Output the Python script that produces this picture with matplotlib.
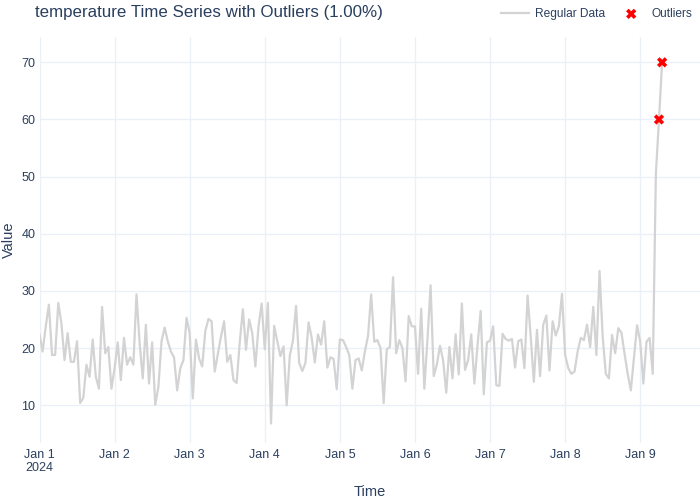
import pandas as pd
import matplotlib
matplotlib.use("Agg")
import matplotlib.pyplot as plt
import matplotlib.dates as mdates

# hourly readings starting 2024-01-01 00:00
start = "2024-01-01"
values = [
    22.4, 19.4, 23.8, 27.6, 18.8, 18.8, 27.9, 24.4, 17.9, 22.6,
    17.6, 17.6, 21.2, 10.4, 11.3, 17.1, 15.0, 21.5, 15.0, 12.9,
    27.2, 19.1, 20.2, 12.9, 16.5, 21.0, 14.4, 21.8, 17.1, 18.4,
    17.1, 29.4, 20.9, 14.7, 24.1, 13.8, 21.0, 10.1, 13.2, 21.2,
    23.6, 21.2, 19.4, 18.4, 12.6, 16.5, 17.9, 25.3, 22.6, 11.2,
    21.5, 18.2, 16.8, 23.0, 25.1, 24.7, 15.9, 19.0, 22.0, 24.7,
    17.6, 18.8, 14.4, 13.9, 21.0, 26.8, 19.7, 25.0, 22.6, 16.8,
    23.8, 27.8, 19.8, 27.9, 6.8, 23.9, 21.2, 18.6, 20.3, 10.0,
    18.7, 21.3, 27.4, 17.4, 16.0, 17.4, 24.5, 21.8, 17.5, 22.4,
    20.6, 24.7, 16.6, 18.4, 18.1, 12.8, 21.5, 21.4, 20.2, 18.8,
    12.9, 17.9, 18.2, 16.1, 19.4, 22.1, 29.4, 21.1, 21.4, 20.0,
    10.4, 19.8, 20.2, 32.4, 19.1, 21.4, 20.0, 14.2, 25.6, 23.8,
    23.8, 15.5, 26.9, 12.9, 21.5, 31.0, 15.1, 17.1, 20.4, 17.9,
    12.2, 20.2, 14.7, 22.4, 15.4, 27.8, 16.2, 17.9, 22.4, 13.8,
    20.5, 26.5, 11.9, 21.0, 21.3, 23.8, 13.5, 13.4, 22.5, 21.6,
    21.3, 21.6, 16.6, 21.2, 21.5, 16.5, 29.2, 22.0, 14.1, 23.2,
    15.1, 24.1, 25.7, 16.1, 24.7, 22.2, 23.8, 29.5, 18.8, 16.5,
    15.5, 15.9, 19.4, 21.8, 21.4, 24.1, 20.2, 27.2, 18.8, 33.5,
    22.0, 15.5, 14.7, 22.3, 19.1, 23.5, 22.7, 19.0, 15.5, 12.6,
    18.3, 24.0, 21.1, 13.8, 21.1, 21.8, 15.5, 50.5, 60.0, 70.0,
]
outlier_idx = [198, 199]
y_ticks = [10, 20, 30, 40, 50, 60, 70]

times = pd.date_range(start, periods=len(values), freq="h")
df = pd.DataFrame({"time": times, "value": values})
out = df.iloc[outlier_idx]

text_col = "#2a3f5f"
grid_col = "#ebf0f8"
plt.rcParams["font.family"] = ["Liberation Sans", "DejaVu Sans"]

fig = plt.figure(figsize=(7, 5), dpi=100)
ax = fig.add_axes([39.5 / 700, 57 / 500, 660.5 / 700, 406 / 500])

ax.plot(df["time"], df["value"], color="lightgray", lw=1.6, label="Regular Data", zorder=2)
ax.scatter(out["time"], out["value"], marker="X", s=55, color="red",
           edgecolors="none", label="Outliers", zorder=3)

t0 = pd.Timestamp(start)
ax.set_xlim(t0, t0 + pd.Timedelta(days=660.5 / 75.09))
ax.set_ylim(3.40, 74.43)
ax.set_yticks(y_ticks)

ticks = pd.date_range(start, periods=9, freq="D")
ax.set_xticks(ticks)
ax.set_xticklabels([("Jan %d\n2024" if i == 0 else "Jan %d") % d.day for i, d in enumerate(ticks)])

ax.grid(True, color=grid_col, lw=1, zorder=0)
ax.set_axisbelow(True)
for s in ax.spines.values():
    s.set_visible(False)
ax.tick_params(length=0, labelsize=9, labelcolor=text_col, pad=4)
ax.tick_params(axis="y", pad=3)

ax.set_xlabel("Time", fontsize=10.5, color=text_col, labelpad=8)
ax.set_ylabel("Value", fontsize=10.5, color=text_col, labelpad=4)

fig.text(35 / 700, 1 - 13 / 500, "temperature Time Series with Outliers (1.00%)",
         fontsize=12.2, color=text_col, va="center", ha="left")

leg = fig.legend(loc="center right", bbox_to_anchor=(703 / 700, 1 - 14 / 500), ncol=2,
                 frameon=False, fontsize=8.6, labelcolor=text_col, handlelength=2.3,
                 columnspacing=1.0, handletextpad=0.55)

fig.savefig("out.png", dpi=100)
